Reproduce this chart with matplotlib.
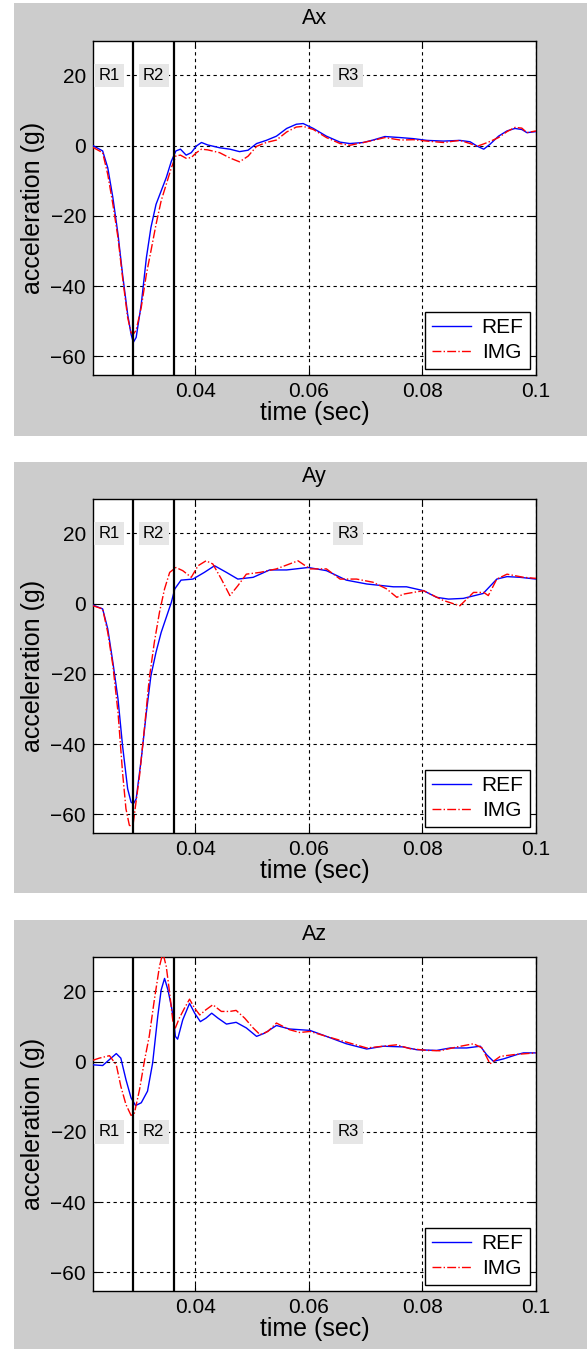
import matplotlib
matplotlib.use("Agg")
import matplotlib.pyplot as plt
from matplotlib.patches import Rectangle

plt.rcParams['font.family'] = ['Liberation Sans', 'DejaVu Sans']

# --- data ---
t_ax = [0.022, 0.0237, 0.0246, 0.0255, 0.0264, 0.0272, 0.0281, 0.0287, 0.0291, 0.0296,
        0.0305, 0.0314, 0.0322, 0.0331, 0.034, 0.0349, 0.0358, 0.0366, 0.0374, 0.0384,
        0.0393, 0.0402, 0.0411, 0.0422, 0.0443, 0.0461, 0.0478, 0.0493, 0.0508, 0.0525,
        0.0543, 0.0561, 0.0578, 0.059, 0.0608, 0.0631, 0.0655, 0.0672, 0.0696, 0.0713,
        0.0734, 0.0761, 0.0784, 0.0808, 0.0837, 0.0866, 0.0884, 0.0896, 0.0908, 0.0919,
        0.0934, 0.0949, 0.0963, 0.0975, 0.0984, 0.1]
ax_ref = [0, -1.5, -6.3, -14.8, -25.2, -36.6, -48, -53.7, -56, -54.6,
          -45.1, -31.9, -23.3, -16.7, -12.9, -9.1, -4.4, -1.5, -1.0, -2.7,
          -2.0, -0.1, 0.9, 0.2, -0.6, -1.0, -1.7, -1.3, 0.6, 1.5,
          2.7, 4.9, 6.1, 6.3, 4.9, 2.7, 1.0, 0.6, 0.9, 1.6,
          2.6, 2.3, 2.0, 1.5, 1.3, 1.5, 1.1, -0.1, -1.0, 0.4,
          2.7, 4.2, 4.9, 4.6, 3.7, 4.0]
ax_img = [-0.5, -2.0, -8.2, -16.7, -26.2, -37.5, -48.9, -53.2, -53.7, -52.5,
          -46, -36.6, -30, -22.4, -15.7, -11, -6.3, -2.9, -2.7, -3.6,
          -3.4, -2.0, -1.0, -1.2, -2.0, -3.5, -4.6, -3.0, -0.2, 0.9,
          1.6, 3.9, 5.3, 5.5, 4.6, 2.3, 0.6, 0.1, 0.9, 1.5,
          2.3, 1.6, 1.7, 1.3, 0.9, 1.5, 0.6, -0.2, 0.5, 1.2,
          2.3, 4.0, 5.2, 5.0, 3.7, 4.2]

t_ay_ref = [0.022, 0.0237, 0.0246, 0.0255, 0.0264, 0.0272, 0.0281, 0.0287, 0.0291, 0.0296,
            0.0305, 0.0314, 0.0322, 0.0331, 0.034, 0.0349, 0.0358, 0.0364, 0.0375, 0.0396,
            0.0416, 0.0434, 0.0455, 0.0475, 0.0502, 0.0531, 0.0561, 0.0599, 0.0631, 0.0666,
            0.0702, 0.0749, 0.0772, 0.0802, 0.0825, 0.0846, 0.0872, 0.0907, 0.0931, 0.0949,
            0.0972, 0.1]
ay_ref = [-0.4, -1.5, -7.2, -16.7, -27.1, -40.4, -52.7, -56.5, -57, -55.6,
          -44.2, -30.9, -20.5, -13.8, -8.2, -3.9, 0.4, 4.2, 6.7, 7.0,
          8.9, 10.8, 8.9, 7.0, 7.5, 9.6, 9.6, 10.3, 9.4, 6.7,
          5.6, 4.8, 4.8, 3.7, 1.8, 1.3, 1.5, 2.9, 7.0, 7.7,
          7.5, 7.0]
t_ay_img = [0.022, 0.0237, 0.0246, 0.0255, 0.0264, 0.0272, 0.0278, 0.0284, 0.029, 0.0295,
            0.0302, 0.0311, 0.0319, 0.0328, 0.0337, 0.0346, 0.0355, 0.0366, 0.0378, 0.0393,
            0.0405, 0.0419, 0.0431, 0.0446, 0.0461, 0.0475, 0.049, 0.0514, 0.0543, 0.0566,
            0.0581, 0.0602, 0.0631, 0.0655, 0.0684, 0.0713, 0.0737, 0.0755, 0.0766, 0.0802,
            0.0837, 0.0866, 0.089, 0.0908, 0.0916, 0.0931, 0.0949, 0.0978, 0.1]
ay_img = [-0.6, -1.5, -8.2, -17.6, -30.9, -48, -58.4, -63.1, -63.6, -57.4,
          -48.9, -34.7, -21.4, -11, -2.5, 4.2, 8.9, 10.3, 9.4, 7.5,
          10.8, 12.2, 11.3, 7.0, 2.3, 5.1, 8.4, 8.9, 9.9, 11.3,
          12.2, 9.9, 9.9, 7.0, 7.0, 6.1, 4.2, 1.8, 2.7, 3.7,
          0.9, -0.6, 3.2, 3.2, 2.3, 7.0, 8.4, 7.5, 7.2]

t_az_ref = [0.022, 0.0237, 0.0249, 0.0261, 0.0269, 0.0278, 0.0287, 0.0295, 0.0305, 0.0316,
            0.0325, 0.0334, 0.034, 0.0346, 0.0352, 0.0358, 0.0362, 0.0365, 0.0369, 0.0378,
            0.039, 0.0399, 0.0409, 0.0419, 0.0429, 0.044, 0.0455, 0.0472, 0.049, 0.0508,
            0.0522, 0.0543, 0.0566, 0.0602, 0.0631, 0.0666, 0.0702, 0.0731, 0.0766, 0.079,
            0.0825, 0.0849, 0.0878, 0.0902, 0.0913, 0.0925, 0.0943, 0.0966, 0.0978, 0.1]
az_ref = [-0.9, -1.1, 0.6, 2.3, 1.0, -5.1, -10.3, -12.5, -11.7, -8.4,
          -0.4, 12.9, 20.4, 23.7, 20.4, 15.7, 11.9, 7.2, 6.4, 11.9,
          16.6, 13.8, 11.4, 12.4, 13.8, 12.4, 10.7, 11.2, 9.6, 7.2,
          8.1, 10.3, 9.3, 8.9, 7.2, 5.1, 3.6, 4.4, 4.2, 3.4,
          3.2, 3.9, 3.9, 4.4, 2.0, 0.1, 0.8, 2.0, 2.5, 2.5]
t_az_img = [0.022, 0.0231, 0.0249, 0.0261, 0.0269, 0.0278, 0.0287, 0.0293, 0.0302, 0.0311,
            0.0319, 0.0328, 0.0337, 0.0343, 0.0349, 0.0355, 0.0361, 0.0365, 0.0372, 0.0381,
            0.039, 0.0399, 0.0408, 0.0419, 0.0431, 0.0446, 0.0461, 0.0472, 0.0487, 0.0502,
            0.0514, 0.0528, 0.0543, 0.0566, 0.0584, 0.0602, 0.0631, 0.0672, 0.0702, 0.0731,
            0.0755, 0.0778, 0.0808, 0.0831, 0.0861, 0.089, 0.0905, 0.0919, 0.0937, 0.0961,
            0.0984, 0.1]
az_img = [0.4, 1.0, 1.7, -0.9, -7.0, -12.2, -15.3, -14.6, -7.9, 0.6,
          7.2, 17.6, 27.1, 31.0, 27.1, 19.5, 11.0, 9.6, 12.4, 15.2,
          17.8, 15.2, 13.3, 14.8, 16.2, 14.3, 14.3, 14.6, 12.4, 9.6,
          7.7, 8.6, 11.0, 9.1, 8.3, 8.6, 7.2, 5.3, 3.9, 4.4,
          4.8, 3.7, 3.2, 3.1, 4.2, 5.1, 3.9, -0.6, 1.5, 2.0,
          2.3, 2.5]

titles = ["Ax", "Ay", "Az"]
region_bounds = [0.029, 0.0363]
region_names = ["R1", "R2", "R3"]
region_x = [0.0248, 0.0327, 0.0669]
region_y = [20, 20, -20]
xticks = [0.04, 0.06, 0.08, 0.1]
xtick_labels = ["0.04", "0.06", "0.08", "0.1"]
yticks = [-60, -40, -20, 0, 20]

panels = [(t_ax, ax_ref, t_ax, ax_img),
          (t_ay_ref, ay_ref, t_ay_img, ay_img),
          (t_az_ref, az_ref, t_az_img, az_img)]

W, H = 587, 1349
fig = plt.figure(figsize=(W / 100, H / 100), dpi=100, facecolor='white')

grey_boxes = [(3, 436), (462, 893), (920, 1349)]   # top/bottom in px
axes_tops = [41, 499, 957]

for i in range(3):
    gt, gb = grey_boxes[i]
    fig.patches.append(Rectangle((14 / W, 1 - gb / H), 1 - 14 / W, (gb - gt) / H,
                                 transform=fig.transFigure, facecolor='#cccccc',
                                 edgecolor='none', zorder=-10))
    top = axes_tops[i]
    ax = fig.add_axes([93 / W, 1 - (top + 334) / H, 443 / W, 334 / H])
    ax.set_zorder(1)
    tr, yr, ti, yi = panels[i]
    ax.plot(tr, yr, color='#0000ff', lw=1.0, label='REF', zorder=3)
    ax.plot(ti, yi, color='#ff0000', lw=1.0, ls='-.', label='IMG', zorder=3)
    for xb in region_bounds:
        ax.axvline(xb, color='black', lw=1.6, zorder=4)
    for name, xr in zip(region_names, region_x):
        ax.text(xr, region_y[i], name, ha='center', va='center', fontsize=12,
                bbox=dict(boxstyle='square,pad=0.25', facecolor='#e6e6e6', edgecolor='none'),
                zorder=5)
    ax.set_xlim(0.022, 0.1)
    ax.set_ylim(-65.3, 29.8)
    ax.set_xticks(xticks)
    ax.set_xticklabels(xtick_labels)
    ax.set_yticks(yticks)
    ax.grid(True, color='black', ls=(0, (3, 3)), lw=0.8)
    ax.tick_params(direction='in', top=True, right=True, labelsize=15, length=5, pad=5)
    for s in ax.spines.values():
        s.set_linewidth(1.0)
    ax.set_title(titles[i], fontsize=15.5, pad=12)
    ax.set_xlabel("time (sec)", fontsize=18, labelpad=0)
    ax.set_ylabel("acceleration (g)", fontsize=18, labelpad=4)
    leg = ax.legend(loc='lower right', fontsize=15, handlelength=1.9, fancybox=False,
                    framealpha=1, edgecolor='black', borderaxespad=0.3,
                    borderpad=0.3, labelspacing=0.3, handletextpad=0.5)
    leg.get_frame().set_linewidth(1.0)

fig.savefig("out.png", dpi=100, facecolor='white')
